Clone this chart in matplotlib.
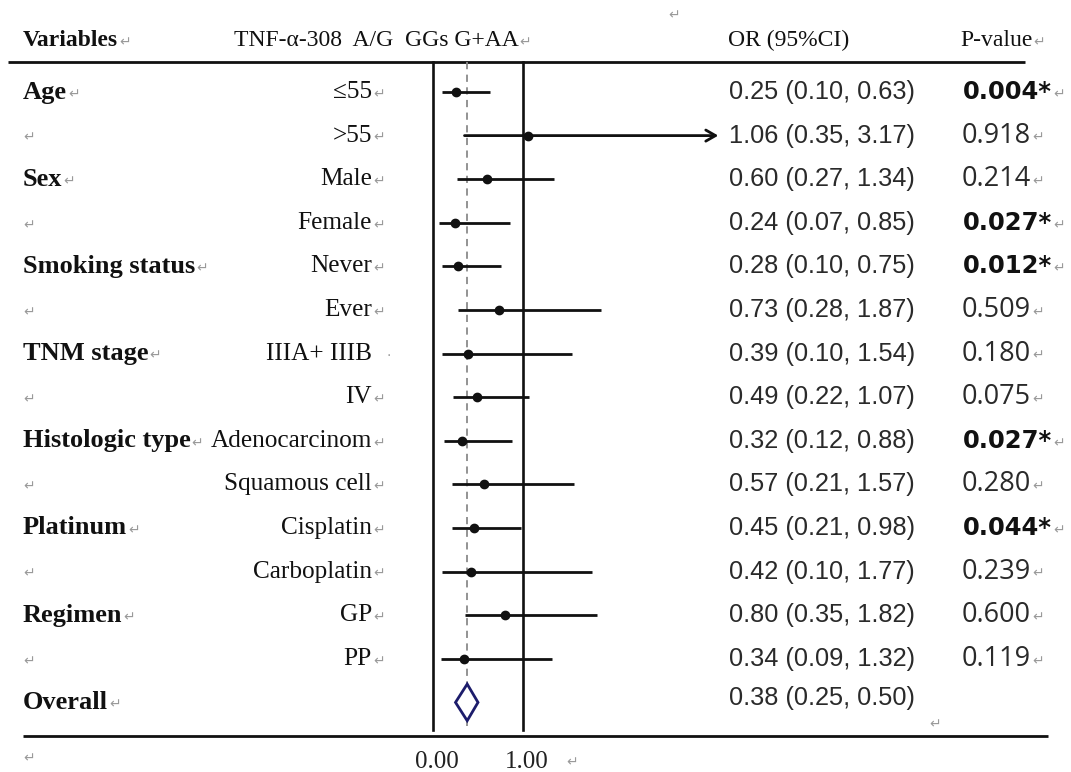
import matplotlib
matplotlib.use("Agg")
import matplotlib.pyplot as plt
from matplotlib import transforms
from matplotlib.patches import Polygon

# ---------------- data ----------------
groups = ["Age", "", "Sex", "", "Smoking status", "", "TNM stage", "",
          "Histologic type", "", "Platinum", "", "Regimen", ""]
subgroups = ["\u226455", ">55", "Male", "Female", "Never", "Ever", "IIIA+ IIIB", "IV",
             "Adenocarcinom", "Squamous cell", "Cisplatin", "Carboplatin", "GP", "PP"]
or_vals = [0.25, 1.06, 0.60, 0.24, 0.28, 0.73, 0.39, 0.49, 0.32, 0.57, 0.45, 0.42, 0.80, 0.34]
ci_low = [0.10, 0.35, 0.27, 0.07, 0.10, 0.28, 0.10, 0.22, 0.12, 0.21, 0.21, 0.10, 0.35, 0.09]
ci_high = [0.63, 3.17, 1.34, 0.85, 0.75, 1.87, 1.54, 1.07, 0.88, 1.57, 0.98, 1.77, 1.82, 1.32]
p_values = ["0.004*", "0.918", "0.214", "0.027*", "0.012*", "0.509", "0.180", "0.075",
            "0.027*", "0.280", "0.044*", "0.239", "0.600", "0.119"]
overall_label = "Overall"
overall_or = 0.38
overall_low = 0.25
overall_high = 0.50
tick_values = [0.0, 1.0]
tick_labels = ["0.00", "1.00"]
headers = ["Variables", "TNF-\u03b1-308  A/G  GGs G+AA", "OR (95%CI)", "P-value"]

# ---------------- layout ----------------
W, H = 1071, 772
fig = plt.figure(figsize=(W / 100, H / 100), dpi=100)
ax = fig.add_axes([0, 0, 1, 1])
ax.axis("off")

X0, XS = 433.0, 90.0      # pixel of OR=0, pixels per OR unit
Y0, YS = 92.0, 43.6       # pixel of row 0, pixels per row
ax.set_xlim(-X0 / XS, (W - X0) / XS)
ax.set_ylim((H - Y0) / YS, -Y0 / YS)


def row_of(py):
    return (py - Y0) / YS


def fx(px):
    return px / W


tr = transforms.blended_transform_factory(ax.transAxes, ax.transData)

SERIF = "Liberation Serif"
SANS = "Liberation Sans"
RET = "\u21b5"
RETC = "#9a9a9a"

renderer = fig.canvas.get_renderer()


def ret_after(t, dy=0.05, size=10):
    bb = t.get_window_extent(renderer=renderer)
    ax.text(fx(bb.x1 + 1), t.get_position()[1] + dy, RET, transform=tr,
            fontsize=size, color=RETC, va="center", ha="left", family="DejaVu Sans")


# header
hy = row_of(40)
t = ax.text(fx(23), hy, headers[0], transform=tr, family=SERIF, fontweight="bold",
            fontsize=17, va="center", ha="left", color="#111111")
ret_after(t)
t = ax.text(fx(234), hy, headers[1], transform=tr, family=SERIF, fontsize=17,
            va="center", ha="left", color="#111111")
ret_after(t)
ax.text(fx(728), hy, headers[2], transform=tr, family=SERIF, fontsize=17,
        va="center", ha="left", color="#111111")
t = ax.text(fx(960), hy, headers[3], transform=tr, family=SERIF, fontsize=17,
            va="center", ha="left", color="#111111")
ret_after(t)
ax.text(fx(674), row_of(15), RET, transform=tr, fontsize=10, color=RETC,
        va="center", ha="center", family="DejaVu Sans")

# horizontal rules
ax.plot([fx(8), fx(1025)], [row_of(62)] * 2, transform=tr, color="#111111", lw=2.0,
        solid_capstyle="butt")
ax.plot([fx(23), fx(1048)], [row_of(736)] * 2, transform=tr, color="#111111", lw=2.0,
        solid_capstyle="butt")

# vertical reference lines
ytop, ybot = row_of(62), row_of(730)
ax.plot([0, 0], [ytop, ybot], color="#111111", lw=1.9)
ax.plot([1, 1], [ytop, ybot], color="#111111", lw=1.9)
ax.plot([overall_or, overall_or], [ytop, row_of(726)], color="#8a8a8a", lw=1.3,
        ls=(0, (4, 3)))

# rows
for i in range(len(subgroups)):
    y = i
    if groups[i]:
        t = ax.text(fx(23), y, groups[i], transform=tr, family=SERIF, fontweight="bold",
                    fontsize=19, va="center", ha="left", color="#111111")
        ret_after(t)
    else:
        ax.text(fx(23), y + 0.05, RET, transform=tr, fontsize=10, color=RETC,
                va="center", ha="left", family="DejaVu Sans")
    ax.text(fx(372), y, subgroups[i], transform=tr, family=SERIF, fontsize=18.2,
            va="center", ha="right", color="#111111")
    if subgroups[i].startswith("IIIA"):
        ax.text(fx(386), y + 0.05, "\u00b7", transform=tr, fontsize=10, color=RETC,
                va="center", ha="left")
    else:
        ax.text(fx(373), y + 0.05, RET, transform=tr, fontsize=10, color=RETC,
                va="center", ha="left", family="DejaVu Sans")

    # CI and point
    if ci_high[i] > 2.5:
        ax.annotate("", xy=(ci_high[i], y), xytext=(ci_low[i], y),
                    arrowprops=dict(arrowstyle="->,head_length=0.7,head_width=0.4",
                                    color="#111111", lw=2.0, shrinkA=0, shrinkB=0))
    else:
        ax.plot([ci_low[i], ci_high[i]], [y, y], color="#111111", lw=2.0,
                solid_capstyle="butt")
    ax.plot(or_vals[i], y, "o", color="#111111", ms=6)

    # OR text
    ax.text(fx(729), y, f"{or_vals[i]:.2f} ({ci_low[i]:.2f}, {ci_high[i]:.2f})",
            transform=tr, family=SANS, fontsize=18.3, va="center", ha="left",
            color="#2a2a2a")
    # p-value
    pv = p_values[i]
    if pv.endswith("*"):
        t = ax.text(fx(963), y, pv, transform=tr, family="DejaVu Sans", fontweight="bold",
                    fontsize=17.5, va="center", ha="left", color="#111111")
    else:
        t = ax.text(fx(962), y, pv, transform=tr, family="Open Sans",
                    fontsize=19.5, va="center", ha="left", color="#2a2a2a")
    ret_after(t)

# overall row
yo = len(subgroups)
t = ax.text(fx(23), yo, overall_label, transform=tr, family=SERIF, fontweight="bold",
            fontsize=19, va="center", ha="left", color="#111111")
ret_after(t)
dh = 0.42
diamond = Polygon([(overall_low, yo), (overall_or, yo - dh), (overall_high, yo),
                   (overall_or, yo + dh)], closed=True, facecolor="white",
                  edgecolor="#1c1c6b", lw=2.0, zorder=5)
ax.add_patch(diamond)
ax.text(fx(729), yo - 0.1, f"{overall_or:.2f} ({overall_low:.2f}, {overall_high:.2f})",
        transform=tr, family=SANS, fontsize=18.3, va="center", ha="left", color="#2a2a2a")
ax.text(fx(935), row_of(724), RET, transform=tr, fontsize=10, color=RETC,
        va="center", ha="center", family="DejaVu Sans")

# axis tick labels
yt = row_of(762)
for v, lab in zip(tick_values, tick_labels):
    ax.text(v + 0.04, yt, lab, family=SERIF, fontsize=18, va="center", ha="center",
            color="#222222")
ax.text(fx(572), yt, RET, transform=tr, fontsize=10, color=RETC, va="center",
        ha="center", family="DejaVu Sans")
ax.text(fx(23), row_of(758), RET, transform=tr, fontsize=10, color=RETC, va="center",
        ha="left", family="DejaVu Sans")

fig.savefig("out.png", dpi=100, facecolor="white")
